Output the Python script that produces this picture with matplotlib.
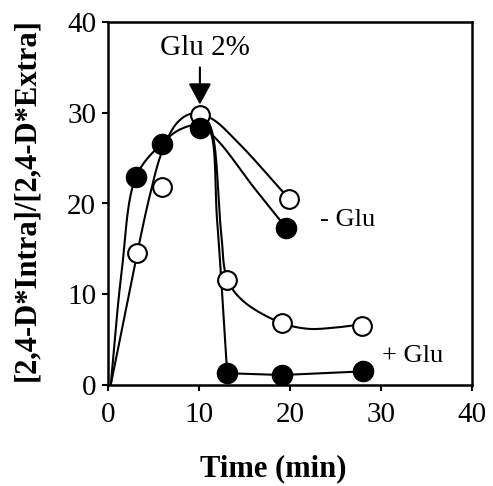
import numpy as np
import matplotlib
matplotlib.use("Agg")
import matplotlib.pyplot as plt

plt.rcParams['font.family'] = ['Liberation Serif', 'DejaVu Serif']

# measured points
filled_t = [3.1, 5.9, 10.1, 13.1, 19.1, 28.0]
filled_y = [22.9, 26.6, 28.3, 1.3, 1.1, 1.5]
filled_minus_t = [19.6]
filled_minus_y = [17.3]
open_t = [3.2, 5.9, 10.1, 13.1, 19.1, 27.9]
open_y = [14.5, 21.8, 29.8, 11.6, 6.8, 6.5]
open_minus_t = [19.9]
open_minus_y = [20.5]

# fitted curves
fit_filled_minus_t = [0.3, 1.5, 3.1, 5.9, 8.0, 10.0, 12.0, 16.0, 19.6]
fit_filled_minus_y = [0.0, 12.5, 23.0, 26.6, 28.2, 28.6, 27.0, 21.8, 17.3]
fit_open_minus_t = [0.3, 1.7, 3.2, 4.6, 5.9, 7.6, 9.2, 11.3, 14.5, 19.9]
fit_open_minus_y = [0.0, 7.0, 14.5, 20.9, 25.6, 28.9, 29.9, 29.4, 26.5, 20.5]
fit_open_plus_t = [10.0, 11.2, 12.4, 13.1, 14.8, 18.9, 21.9, 24.7, 28.0]
fit_open_plus_y = [29.8, 28.6, 17.2, 11.7, 9.3, 6.9, 6.2, 6.3, 6.7]
fit_filled_plus_t = [10.1, 11.1, 12.0, 13.1, 19.1, 28.0]
fit_filled_plus_y = [28.6, 28.2, 18.0, 1.3, 1.1, 1.5]

xticks = [0, 10, 20, 30, 40]
yticks = [0, 10, 20, 30, 40]


def smooth(t, y, n=30, alpha=0.5):
    """Centripetal Catmull-Rom rendering of a traced curve."""
    P = np.column_stack([np.asarray(t, float), np.asarray(y, float)])
    P = np.vstack([2 * P[0] - P[1], P, 2 * P[-1] - P[-2]])
    out = []
    for i in range(1, len(P) - 2):
        p0, p1, p2, p3 = P[i - 1], P[i], P[i + 1], P[i + 2]
        t0 = 0.0
        t1 = t0 + np.linalg.norm(p1 - p0) ** alpha
        t2 = t1 + np.linalg.norm(p2 - p1) ** alpha
        t3 = t2 + np.linalg.norm(p3 - p2) ** alpha
        s = np.linspace(t1, t2, n, endpoint=False)[:, None]
        a1 = (t1 - s) / (t1 - t0) * p0 + (s - t0) / (t1 - t0) * p1
        a2 = (t2 - s) / (t2 - t1) * p1 + (s - t1) / (t2 - t1) * p2
        a3 = (t3 - s) / (t3 - t2) * p2 + (s - t2) / (t3 - t2) * p3
        b1 = (t2 - s) / (t2 - t0) * a1 + (s - t0) / (t2 - t0) * a2
        b2 = (t3 - s) / (t3 - t1) * a2 + (s - t1) / (t3 - t1) * a3
        c = (t2 - s) / (t2 - t1) * b1 + (s - t1) / (t2 - t1) * b2
        out.append(c)
    out.append(P[-2][None, :])
    out = np.vstack(out)
    return out[:, 0], out[:, 1]


fig = plt.figure(figsize=(4.93, 4.86), dpi=100)
ax = fig.add_axes([108 / 493, 1 - 385 / 486, 364 / 493, 363 / 486])

lw = 1.5
for tt, yy in [(fit_filled_minus_t, fit_filled_minus_y),
               (fit_open_minus_t, fit_open_minus_y),
               (fit_open_plus_t, fit_open_plus_y)]:
    sx, sy = smooth(tt, yy)
    ax.plot(sx, sy, color='black', lw=lw, zorder=2)
sx, sy = smooth(fit_filled_plus_t[:4], fit_filled_plus_y[:4])
ax.plot(sx, sy, color='black', lw=lw, zorder=2)
ax.plot(fit_filled_plus_t[3:], fit_filled_plus_y[3:], color='black', lw=lw, zorder=2)

ms = 14.5
ax.plot(open_t + open_minus_t, open_y + open_minus_y, 'o', ms=ms - 1, mfc='white',
        mec='black', mew=1.5, zorder=3, linestyle='none')
ax.plot(filled_t + filled_minus_t, filled_y + filled_minus_y, 'o', ms=ms, mfc='black',
        mec='black', mew=1, zorder=4, linestyle='none')

ax.set_xlim(0, 40)
ax.set_ylim(0, 40)
ax.set_xticks(xticks)
ax.set_yticks(yticks)
ax.tick_params(axis='both', direction='out', length=4.5, width=1.5, labelsize=21)
ax.tick_params(axis='x', pad=8)
ax.tick_params(axis='y', pad=4)
for sp in ax.spines.values():
    sp.set_linewidth(1.8)

ax.set_xlabel('Time (min)', fontsize=22, fontweight='bold')
ax.xaxis.set_label_coords(0.453, -0.19)
ax.set_ylabel('[2,4-D*Intra]/[2,4-D*Extra]', fontsize=22, fontweight='bold')
ax.yaxis.set_label_coords(-0.183, 0.51)

ax.annotate('', xy=(10.1, 30.9), xytext=(10.1, 35.0),
            arrowprops=dict(arrowstyle='-|>,head_length=1.3,head_width=0.7',
                            color='black', lw=1.5, shrinkA=0, shrinkB=0))
ax.text(10.66, 37.1, 'Glu 2%', fontsize=21, ha='center', va='center')
ax.text(23.3, 18.2, '- Glu', fontsize=19, ha='left', va='center')
ax.text(30.1, 3.2, '+ Glu', fontsize=19, ha='left', va='center')

fig.savefig('out.png', dpi=100)
